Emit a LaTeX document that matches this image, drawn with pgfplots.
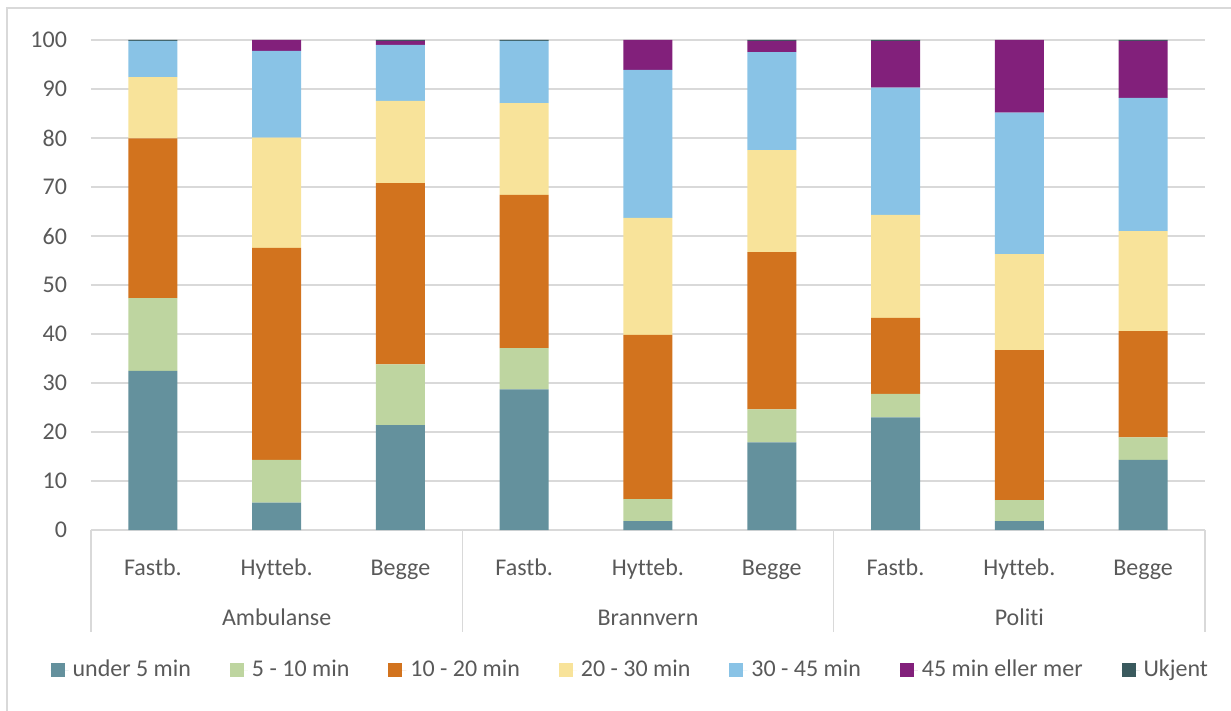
\documentclass[border=0pt]{standalone}
\usepackage{fontspec}
\setmainfont{Carlito}[Ligatures=NoCommon]
\usepackage{pgfplots}
\pgfplotsset{compat=1.18}
\usepackage{pgfplotstable}

\definecolor{cA}{HTML}{64919D}
\definecolor{cB}{HTML}{BED5A0}
\definecolor{cC}{HTML}{D2731E}
\definecolor{cD}{HTML}{F8E39A}
\definecolor{cE}{HTML}{89C3E6}
\definecolor{cF}{HTML}{82207B}
\definecolor{cG}{HTML}{3A5A5E}
\definecolor{gridc}{HTML}{D9D9D9}
\definecolor{txt}{HTML}{595959}

% andel (prosent) per responstid, 9 stolper
\pgfplotstableread{
x u5 u10 u20 u30 u45 u45p ukj
0 32.5 14.8 32.6 12.5  7.4  0.0 0.2
1  5.6  8.7 43.3 22.5 17.7  2.2 0.0
2 21.4 12.4 37.0 16.8 11.4  0.8 0.2
3 28.7  8.4 31.3 18.7 12.7  0.0 0.2
4  1.8  4.5 33.5 23.9 30.2  6.1 0.0
5 17.9  6.7 32.1 20.8 20.0  2.3 0.2
6 23.0  4.8 15.5 21.0 26.0  9.5 0.2
7  1.8  4.3 30.6 19.6 28.9 14.8 0.0
8 14.3  4.6 21.7 20.4 27.2 11.6 0.2
}\resp

\begin{document}
\begin{tikzpicture}
\useasboundingbox (-45.5bp,-90.5bp) rectangle (570bp,265bp);
\draw[gridc, line width=1bp] (-42bp,-100bp) -- (-42bp,261bp) -- (600bp,261bp);
\begin{axis}[
  scale only axis, width=557bp, height=245bp,
  ybar stacked, bar width=24.5bp,
  xmin=-0.5, xmax=8.5, ymin=0, ymax=100,
  ytick={0,10,...,100},
  xtick={0,...,8},
  xticklabels={Fastb.,Hytteb.,Begge,Fastb.,Hytteb.,Begge,Fastb.,Hytteb.,Begge},
  ymajorgrids, grid style={color=gridc, line width=0.75bp},
  axis x line*=bottom, axis y line*=left,
  y axis line style={draw=none},
  x axis line style={color=gridc, line width=0.75bp},
  tick style={draw=none},
  font=\fontsize{12bp}{14bp}\selectfont,
  /pgf/number format/assume math mode=true,
  every tick label/.append style={text=txt, font=\fontsize{12bp}{14bp}\selectfont},
  xticklabel style={anchor=base, yshift=-22.5bp},
  yticklabel style={xshift=-8.5bp},
  clip=false,
  legend style={at={(0.485,-0.2857)}, anchor=center, draw=none, fill=none,
    legend columns=7, font=\fontsize{12bp}{14bp}\selectfont, text=txt,
    /tikz/every even column/.append style={column sep=17.5bp}},
  legend cell align=left,
  legend image code/.code={\fill[#1] (0bp,-3.5bp) rectangle (7bp,3.5bp); \path (0bp,0bp) -- (9bp,0bp);},
]
\addplot[fill=cA, draw=none] table[x=x, y=u5]{\resp};
\addplot[fill=cB, draw=none] table[x=x, y=u10]{\resp};
\addplot[fill=cC, draw=none] table[x=x, y=u20]{\resp};
\addplot[fill=cD, draw=none] table[x=x, y=u30]{\resp};
\addplot[fill=cE, draw=none] table[x=x, y=u45]{\resp};
\addplot[fill=cF, draw=none] table[x=x, y=u45p]{\resp};
\addplot[fill=cG, draw=none] table[x=x, y=ukj]{\resp};
\legend{under 5 min, 5 - 10 min, 10 - 20 min, 20 - 30 min, 30 - 45 min, 45 min eller mer, Ukjent}

\draw[gridc, line width=0.75bp] (axis cs:-0.5,0) -- ++(0bp,-51bp);
\draw[gridc, line width=0.75bp] (axis cs:2.5,0) -- ++(0bp,-51bp);
\draw[gridc, line width=0.75bp] (axis cs:5.5,0) -- ++(0bp,-51bp);
\draw[gridc, line width=0.75bp] (axis cs:8.5,0) -- ++(0bp,-51bp);
\node[anchor=base, text=txt, yshift=-47.5bp] at (axis cs:1,0) {Ambulanse};
\node[anchor=base, text=txt, yshift=-47.5bp] at (axis cs:4,0) {Brannvern};
\node[anchor=base, text=txt, yshift=-47.5bp] at (axis cs:7,0) {Politi};
\end{axis}
\end{tikzpicture}
\end{document}
